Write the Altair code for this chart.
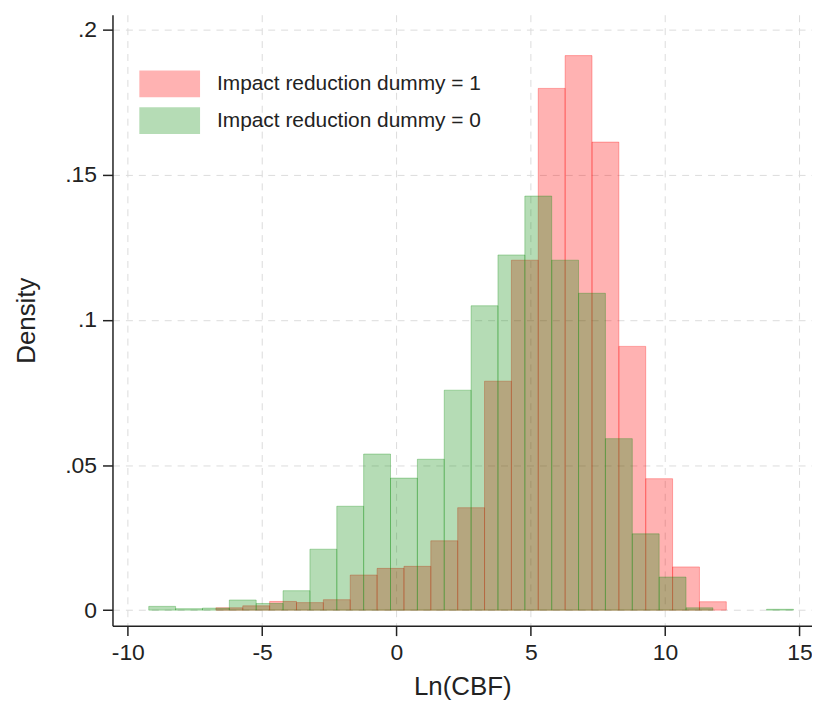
import altair as alt
import pandas as pd

# ---- data (density per bin, bin width 1) ----
bin_width = 1.0

red_label = "Impact reduction dummy = 1"
red_first_edge = -6.72
red_density = [0.0008, 0.0015, 0.0030, 0.0026, 0.0036, 0.0121, 0.0144, 0.0151,
               0.0239, 0.0353, 0.0789, 0.1206, 0.1798, 0.1911, 0.1613, 0.0909,
               0.0453, 0.0149, 0.0029]

green_label = "Impact reduction dummy = 0"
green_first_edge = -9.22
green_density = [0.0013, 0.0005, 0.0007, 0.0035, 0.0023, 0.0067, 0.0210, 0.0358,
                 0.0538, 0.0455, 0.0520, 0.0758, 0.1049, 0.1224, 0.1427, 0.1206,
                 0.1092, 0.0591, 0.0263, 0.0114, 0.0008, 0.0, 0.0, 0.0003]

x_ticks = [-10, -5, 0, 5, 10, 15]
y_ticks = [0, 0.05, 0.1, 0.15, 0.2]

rows = []
for label, first, dens in [(red_label, red_first_edge, red_density),
                           (green_label, green_first_edge, green_density)]:
    for i, d in enumerate(dens):
        lo = round(first + i * bin_width, 4)
        rows.append({"group": label, "lo": lo, "hi": round(lo + bin_width, 4), "density": d})
df = pd.DataFrame(rows)

FONT = "Liberation Sans"
domain = [red_label, green_label]
colors = ["#ff0000", "#0a8c0a"]

chart = (
    alt.Chart(df)
    .transform_filter("datum.density > 0")
    .mark_bar(fillOpacity=0.3, strokeOpacity=0.3, strokeWidth=1)
    .encode(
        x=alt.X("lo:Q",
                scale=alt.Scale(domain=[-10.57, 15.47], nice=False, zero=False),
                axis=alt.Axis(title="Ln(CBF)", values=x_ticks,
                              labelExpr="'' + datum.value",
                              titlePadding=9)),
        x2="hi:Q",
        y=alt.Y("density:Q",
                scale=alt.Scale(domain=[-0.00535, 0.2052], nice=False, zero=False),
                axis=alt.Axis(title="Density", values=y_ticks,
                              labelExpr="datum.value == 0 ? '0' : slice(format(datum.value, '.2~f'), 1)",
                              titlePadding=25)),
        y2=alt.datum(0),
        color=alt.Color("group:N", scale=alt.Scale(domain=domain, range=colors),
                        sort=domain,
                        legend=alt.Legend(
                            title=None, orient="none", legendX=44, legendY=56,
                            symbolType="M-2.26,-1L2.26,-1L2.26,1L-2.26,1Z",
                            symbolSize=729, symbolOpacity=0.3,
                            symbolStrokeWidth=0, labelOffset=34, labelLimit=0,
                            labelFontSize=21, labelFont=FONT, labelColor="#222222",
                            rowPadding=10, padding=0,
                        )),
        stroke=alt.Stroke("group:N", scale=alt.Scale(domain=domain, range=colors),
                          legend=None),
    )
    .properties(
        width=703, height=614,
        autosize=alt.AutoSizeParams(type="none"),
        padding={"left": 105, "top": 5, "right": 0, "bottom": 82},
    )
    .configure_view(stroke=None)
    .configure_axis(
        labelFont=FONT, titleFont=FONT, labelFontSize=23, titleFontSize=26,
        titleFontWeight="normal", labelColor="#222222", titleColor="#222222",
        domainColor="#222222", domainWidth=1.5, tickColor="#222222", tickWidth=1.5,
        tickSize=10, labelPadding=6,
        grid=True, gridColor="#dcdcdc", gridDash=[7, 6], gridWidth=1,
    )
    .configure_axisY(labelAngle=0)
)

chart.save("out.html", embed_options={"renderer": "svg", "actions": False})
